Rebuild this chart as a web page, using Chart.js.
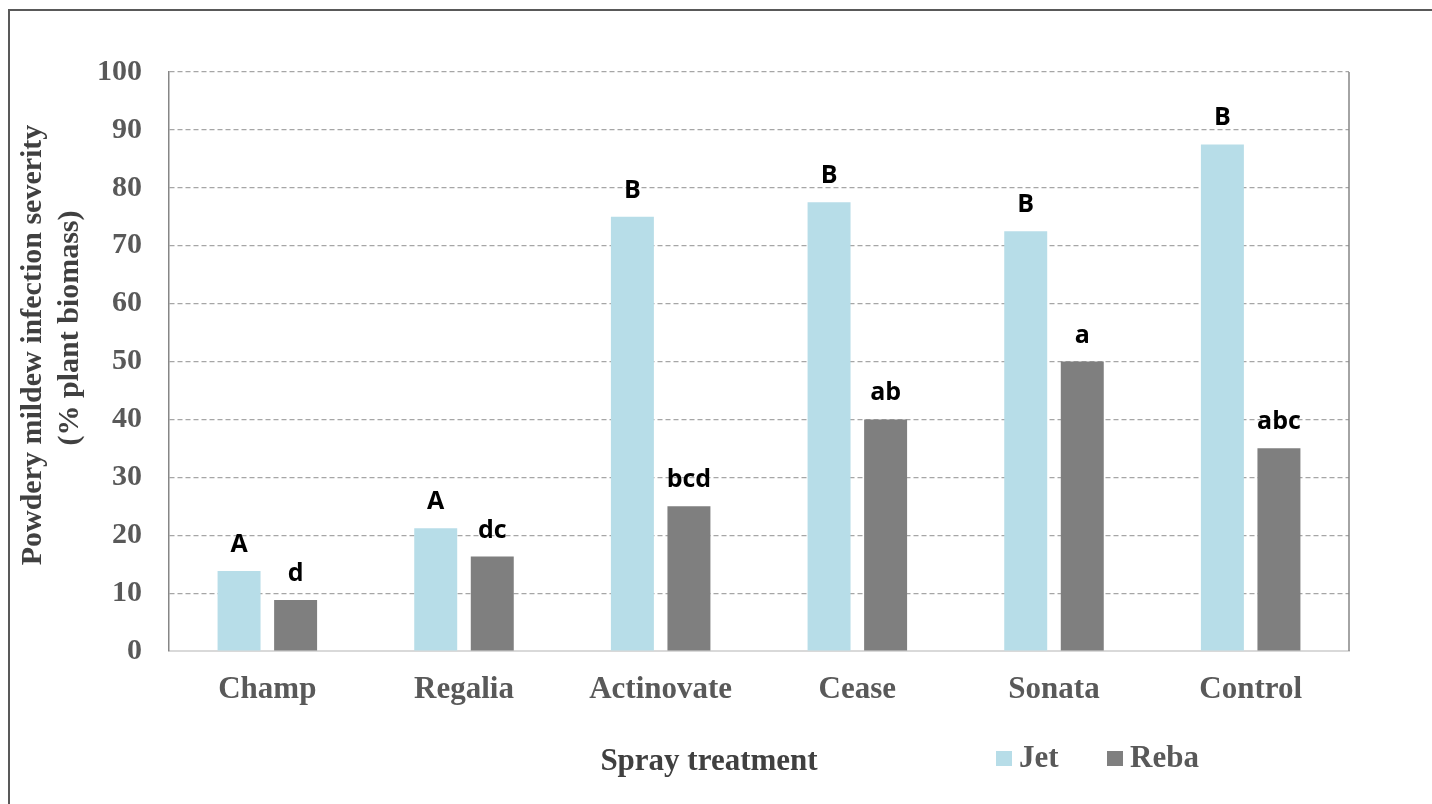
<!DOCTYPE html>
<html>
<head>
<meta charset="utf-8">
<script src="https://cdn.jsdelivr.net/npm/chart.js@4"></script>
<style>
  html, body { margin: 0; padding: 0; background: #fff; }
  .chart { position: relative; width: 1432px; height: 804px; }
</style>
</head>
<body>
<div class="chart"><canvas id="barChart"></canvas></div>
<script>
const treatments = ["Champ", "Regalia", "Actinovate", "Cease", "Sonata", "Control"];
const jetValues = [13.8, 21.2, 75, 77.5, 72.5, 87.5];
const rebaValues = [8.8, 16.3, 25, 40, 50, 35];
const jetLetters = ["A", "A", "B", "B", "B", "B"];
const rebaLetters = ["d", "dc", "bcd", "ab", "a", "abc"];
const yTicks = [0, 10, 20, 30, 40, 50, 60, 70, 80, 90, 100];

const JET = "#b7dde8";
const REBA = "#7f7f7f";
const serif = "'Liberation Serif', 'Times New Roman', serif";

// letters above bars, titles, legend and frame
const extras = {
  id: "extras",
  afterDatasetsDraw(chart) {
    const ctx = chart.ctx;
    const letters = [jetLetters, rebaLetters];
    ctx.save();
    ctx.font = "bold 25px 'Open Sans', Lato, sans-serif";
    ctx.fillStyle = "#000";
    ctx.textAlign = "center";
    ctx.textBaseline = "alphabetic";
    letters.forEach((set, i) => {
      chart.getDatasetMeta(i).data.forEach((bar, j) => {
        ctx.fillText(set[j], bar.x, bar.y - 19);
      });
    });
    ctx.restore();
  },
  afterDraw(chart) {
    const { ctx, chartArea } = chart;
    ctx.save();
    // outer frame
    ctx.strokeStyle = "#595959";
    ctx.lineWidth = 2;
    ctx.strokeRect(9, 10, 1600, 1000);

    // right edge of plot area
    ctx.strokeStyle = "#868686";
    ctx.lineWidth = 1.5;
    ctx.beginPath();
    ctx.moveTo(chartArea.right, chartArea.top);
    ctx.lineTo(chartArea.right, chartArea.bottom);
    ctx.stroke();

    // y axis title
    ctx.fillStyle = "#404040";
    ctx.font = "bold 30px " + serif;
    ctx.textAlign = "center";
    ctx.textBaseline = "middle";
    ctx.save();
    ctx.translate(33, 345);
    ctx.rotate(-Math.PI / 2);
    ctx.fillText("Powdery mildew infection severity", 0, 0);
    ctx.restore();
    ctx.save();
    ctx.translate(70, 328);
    ctx.rotate(-Math.PI / 2);
    ctx.fillText("(% plant biomass)", 0, 0);
    ctx.restore();

    // x axis title
    ctx.font = "bold 31px " + serif;
    ctx.textBaseline = "alphabetic";
    ctx.fillText("Spray treatment", 709, 770);

    // legend
    const items = [
      { label: "Jet", color: JET, x: 996 },
      { label: "Reba", color: REBA, x: 1107 },
    ];
    ctx.textAlign = "left";
    items.forEach((it) => {
      ctx.fillStyle = it.color;
      ctx.fillRect(it.x, 751, 16, 15);
      ctx.fillStyle = "#595959";
      ctx.fillText(it.label, it.x + 23, 767);
    });
    ctx.restore();
  },
};

new Chart(document.getElementById("barChart"), {
  type: "bar",
  data: {
    labels: treatments,
    datasets: [
      {
        label: "Jet",
        data: jetValues,
        backgroundColor: JET,
        categoryPercentage: 0.575,
        barPercentage: 0.76,
      },
      {
        label: "Reba",
        data: rebaValues,
        backgroundColor: REBA,
        categoryPercentage: 0.575,
        barPercentage: 0.76,
      },
    ],
  },
  options: {
    responsive: true,
    maintainAspectRatio: false,
    animation: false,
    layout: { padding: { top: 72, right: 83, left: 0, bottom: 0 } },
    plugins: {
      legend: { display: false },
      tooltip: { enabled: false },
    },
    scales: {
      x: {
        afterFit: (scale) => { scale.height = 153; },
        grid: { display: false, drawTicks: false },
        border: { display: true, color: "#d9d9d9", width: 2 },
        ticks: {
          color: "#595959",
          padding: 20,
          font: { family: serif, size: 31, weight: "bold" },
        },
      },
      y: {
        min: 0,
        max: 100,
        afterFit: (scale) => { scale.width = 169; },
        afterBuildTicks: (scale) => {
          scale.ticks = yTicks.map((v) => ({ value: v }));
        },
        grid: {
          drawTicks: false,
          color: (c) => (c.tick && c.tick.value === 0 ? "rgba(0,0,0,0)" : "#a6a6a6"),
          lineWidth: 1.2,
        },
        border: { display: true, color: "#868686", width: 1.5, dash: [5, 3] },
        ticks: {
          color: "#595959",
          padding: 27,
          font: { family: serif, size: 30, weight: "bold" },
        },
      },
    },
  },
  plugins: [extras],
});
</script>
</body>
</html>
